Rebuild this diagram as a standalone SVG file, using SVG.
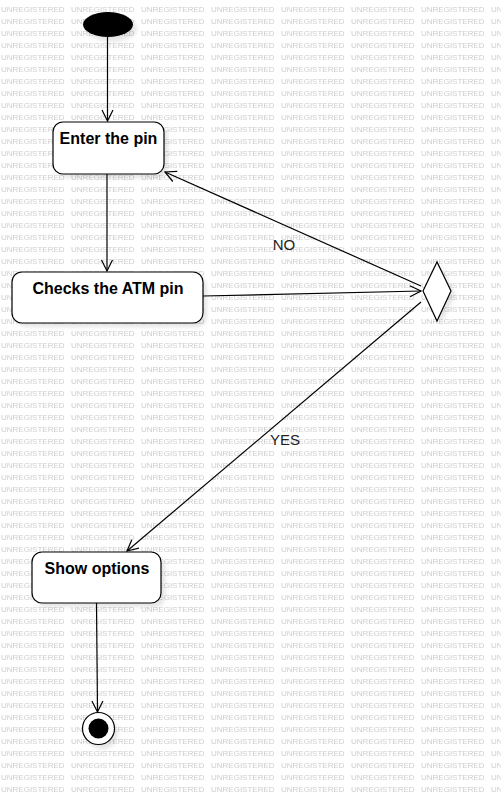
<svg xmlns="http://www.w3.org/2000/svg" width="501" height="795" viewBox="0 0 501 795">
<defs>
<style>
.wm{font-family:"Liberation Sans",Arial,sans-serif;font-size:8px;fill:#cdcdcd}
.box{fill:#fff;stroke:#000;stroke-width:1.2}
.sh{fill:#000;opacity:0.1;filter:url(#blur)}
.lbl{font-family:"Liberation Sans",Arial,sans-serif;font-size:16px;font-weight:bold;fill:#000;text-anchor:middle}
.elbl{font-family:"Liberation Sans",Arial,sans-serif;font-size:15px;fill:#222;text-anchor:middle}
.edge{fill:none;stroke:#000;stroke-width:1.2}
</style>
<pattern id="wm" width="70" height="12" patternUnits="userSpaceOnUse">
<text class="wm" x="1" y="12">UNREGISTERED</text>
</pattern>
<filter id="blur" x="-20%" y="-20%" width="140%" height="140%"><feGaussianBlur stdDeviation="2"/></filter>
<marker id="arr" markerWidth="14" markerHeight="14" refX="12" refY="7" orient="auto" markerUnits="userSpaceOnUse">
<polyline points="1,1.5 12,7 1,12.5" fill="none" stroke="#000" stroke-width="1.2"/>
</marker>
</defs>
<rect width="501" height="795" fill="#fff"/>
<rect width="501" height="795" fill="url(#wm)"/>

<g id="start">
<ellipse class="sh" cx="112" cy="29" rx="25" ry="12.5"/>
<ellipse cx="108" cy="24.5" rx="25" ry="12.5" fill="#000"/>
</g>

<g id="enter-pin">
<rect class="sh" x="57" y="126" width="111" height="52" rx="10"/>
<rect class="box" x="53" y="122" width="111" height="52" rx="10"/>
<text class="lbl" x="108.5" y="144">Enter the pin</text>
</g>

<g id="check-pin">
<rect class="sh" x="16" y="276" width="191" height="51" rx="10"/>
<rect class="box" x="12" y="272" width="191" height="51" rx="10"/>
<text class="lbl" x="108" y="294">Checks the ATM pin</text>
</g>

<g id="decision">
<polygon class="sh" points="427,295 441,266 455,295 441,324"/>
<polygon class="box" points="423,291 437,262 451,291 437,321"/>
</g>

<g id="show-options">
<rect class="sh" x="36" y="556" width="129" height="51" rx="10"/>
<rect class="box" x="32" y="552" width="129" height="51" rx="10"/>
<text class="lbl" x="97" y="574">Show options</text>
</g>

<g id="end">
<circle class="sh" cx="102" cy="733" r="16"/>
<circle cx="98.5" cy="728.5" r="16" fill="#fff" stroke="#000" stroke-width="1.2"/>
<circle cx="98.5" cy="728.5" r="10" fill="#000"/>
</g>

<g id="connectors">
<line class="edge" x1="107.5" y1="37" x2="107.5" y2="121" marker-end="url(#arr)"/>
<line class="edge" x1="107" y1="174" x2="107" y2="271" marker-end="url(#arr)"/>
<line class="edge" x1="203" y1="296" x2="421" y2="291" marker-end="url(#arr)"/>
<line class="edge" x1="421" y1="286" x2="165" y2="172" marker-end="url(#arr)"/>
<line class="edge" x1="421" y1="302" x2="127" y2="551" marker-end="url(#arr)"/>
<line class="edge" x1="96.5" y1="603" x2="97.5" y2="712" marker-end="url(#arr)"/>
<text class="elbl" x="284" y="250">NO</text>
<text class="elbl" x="285" y="445">YES</text>
</g>
</svg>
